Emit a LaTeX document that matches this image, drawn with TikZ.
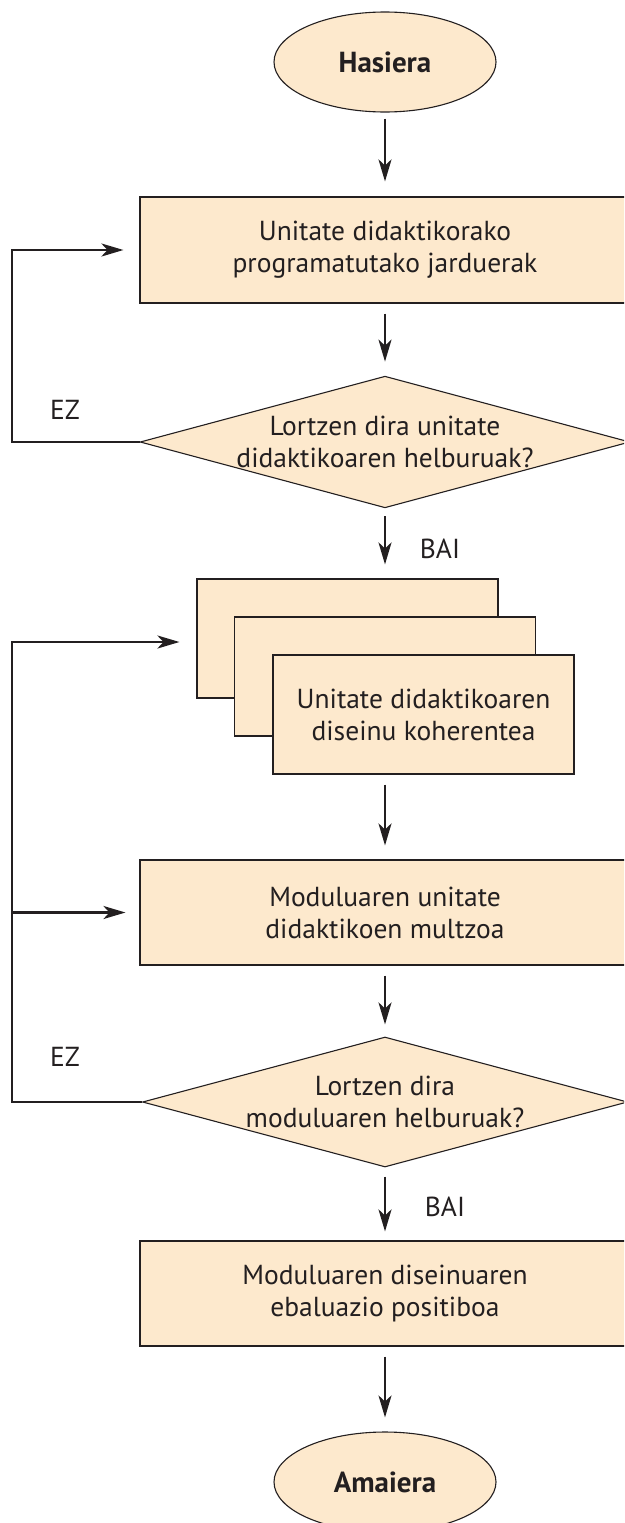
\documentclass[tikz,border=0pt]{standalone}
\usepackage{fontspec}
\setmainfont{PT Sans}
\usetikzlibrary{shapes.geometric,arrows.meta}
\definecolor{fillc}{HTML}{FDE9CD}
\definecolor{ink}{HTML}{231F20}
\begin{document}
\begin{tikzpicture}[x=1pt,y=-1pt,
  every node/.style={font=\fontsize{27.5}{32}\selectfont, text=ink},
  box/.style={draw=ink, line width=1.1pt, fill=fillc, rectangle, minimum width=490pt, minimum height=105pt, align=center, inner sep=0pt},
  stackbox/.style={draw=ink, line width=1.1pt, fill=fillc, rectangle, minimum width=301pt, minimum height=119pt, align=center, inner sep=0pt},
  term/.style={draw=ink, line width=1.1pt, fill=fillc, ellipse, minimum width=222pt, minimum height=100pt, inner sep=0pt, font=\fontsize{29}{32}\selectfont\bfseries},
  dec/.style={draw=ink, line width=1.1pt, fill=fillc, diamond, shape aspect=3.72, minimum width=485pt, minimum height=130pt, align=center, inner sep=0pt},
  conn/.style={draw=ink, line width=2.4pt, line join=miter},
  arr/.style={conn, -{Stealth[length=22pt,width=13pt,inset=6pt]}},
  lbl/.style={inner sep=0pt}
]
\useasboundingbox (0,0) rectangle (624,1523);
\clip (0,0) rectangle (624,1523);
\coordinate (rail) at (12,0);
\node[term] (start) at (385,62) {Hasiera};
\node[box, minimum height=106pt] (b1) at (385,250) {Unitate didaktikorako\\programatutako jarduerak};
\node[dec] (d1) at (385,442) {Lortzen dira unitate\\didaktikoaren helburuak?};
\node[stackbox] (sa) at (347.5,638.5) {};
\node[stackbox] (sb) at (385,676.5) {};
\node[stackbox] (sc) at (423.5,714.5) {Unitate didaktikoaren\\diseinu koherentea};
\node[box] (b4) at (385,912.5) {Moduluaren unitate\\didaktikoen multzoa};
\node[dec] (d2) at (385,1102) {Lortzen dira\\moduluaren helburuak?};
\node[box] (b5) at (385,1293.5) {Moduluaren diseinuaren\\ebaluazio positiboa};
\node[term] (end) at (385,1482) {Amaiera};
\node[lbl] (ez1) at (65,410) {EZ};
\node[lbl] (bai1) at (440,549) {BAI};
\node[lbl] (ez2) at (65,1057) {EZ};
\node[lbl] (bai2) at (445,1207) {BAI};
\draw[arr, shorten <=6pt, shorten >=15pt] (start) -- (b1);
\draw[arr, shorten <=10pt, shorten >=14pt] (b1) -- (d1);
\draw[arr, shorten <=8pt, shorten >=14pt] (d1.south) -- (d1.south |- sa.north);
\draw[arr, shorten <=10pt, shorten >=14pt] (b4.north |- sc.south) -- (b4.north);
\draw[arr, shorten <=10pt, shorten >=12pt] (b4) -- (d2);
\draw[arr, shorten <=9pt, shorten >=9pt] (d2) -- (b5);
\draw[arr, shorten <=10pt, shorten >=14pt] (b5) -- (end);
\draw[arr, shorten >=16pt] (d1.west) -- (d1.west -| rail) |- (b1.west);
\draw[arr, shorten >=17pt] (d2.west) -- (d2.west -| rail) |- ([yshift=-3.5pt]sa.west);
\draw[arr, shorten >=14pt] (b4.west -| rail) -- (b4.west);
\end{tikzpicture}
\end{document}
